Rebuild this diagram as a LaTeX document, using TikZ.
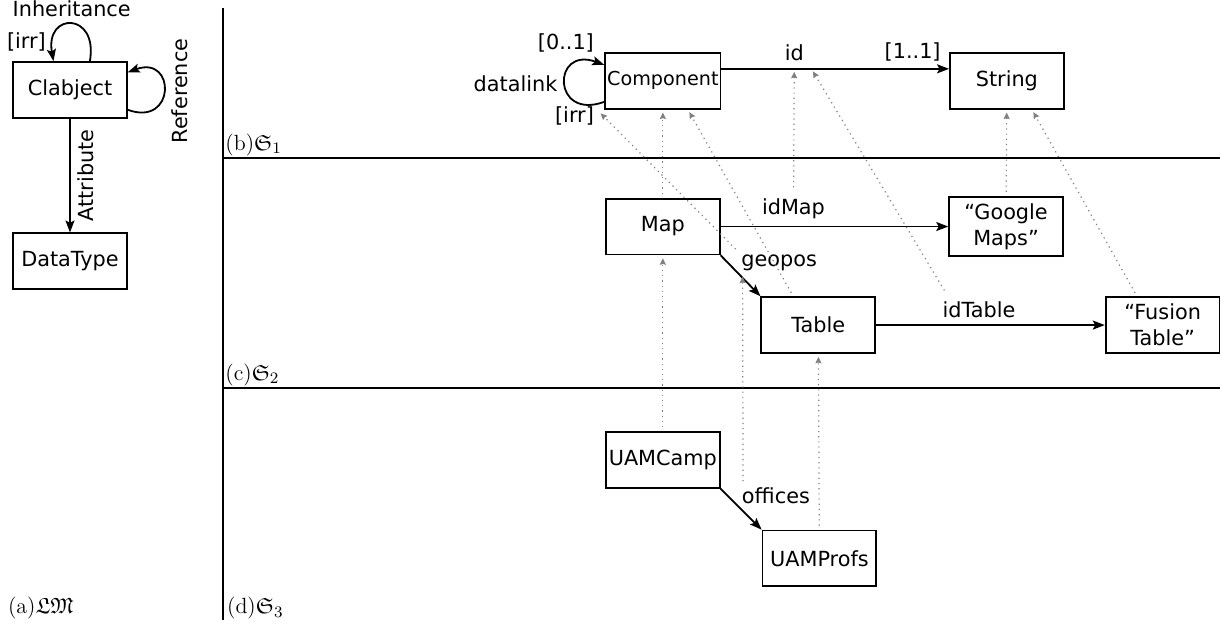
\documentclass[tikz,border=0pt]{standalone}
\usepackage{amsmath,amssymb}
\usepackage{fontspec}
\newfontfamily\dejavu{DejaVu Sans}
\usepackage{tikz}
\usetikzlibrary{arrows.meta, positioning}

\begin{document}
\begin{tikzpicture}[
    node distance=1.55cm and 4cm,
    every node/.style={font=\dejavu\fontsize{10.4}{13}\selectfont},
    cls/.style={rectangle, draw, line width=0.9pt, minimum width=2cm, minimum height=0.98cm, inner xsep=1pt, align=center},
    lvl/.style={font=\rmfamily\fontsize{11}{13}\selectfont, inner sep=1pt},
    arrow/.style={-{Stealth[length=6pt, width=4.5pt, inset=1.2pt]}, line width=0.9pt},
    inst/.style={-{Stealth[length=3.2pt, width=3pt, inset=0.4pt]}, dotted, gray, semithick, shorten >=1.5pt, shorten <=2pt},
    sep/.style={line width=0.9pt}
]
    \useasboundingbox (0,0) rectangle (21.53,-10.97);
    \draw [sep] (3.92,-0.14) -- (3.92,-10.90);
    \draw [sep] (3.92,-2.78) -- (21.44,-2.78);
    \draw [sep] (3.92,-6.82) -- (21.44,-6.82);
    \node [lvl, anchor=south west] (lbls1) at (3.92,-2.78) {(b)$\mathfrak{S}_1$};
    \node [lvl, anchor=south west] (lbls2) at (3.92,-6.82) {(c)$\mathfrak{S}_2$};
    \node [lvl, anchor=west] (lbls3) at (3.95,-10.69) {(d)$\mathfrak{S}_3$};
    \node [lvl, anchor=west] (lblm) at (0.1,-10.69) {(a)$\mathfrak{LM}$};

    \node [cls] (clab) at (1.23,-1.58) {Clabject};
    \node [cls, below=2cm of clab] (dtype) {DataType};
    \node [cls, font=\dejavu\fontsize{9.6}{11}\selectfont] (comp) at (11.65,-1.42) {Component};
    \node [cls, right=of comp] (string) {String};
    \node [cls, below=of comp] (map) {Map};
    \node [cls, right=of map] (gmaps) {“Google\\Maps”};
    \node [cls, below right=0.72cm and 0.7cm of map] (table) {Table};
    \node [cls, right=4.02cm of table] (fusion) {“Fusion\\Table”};
    \node [cls, below=3.09cm of map] (camp) {UAMCamp};
    \node [cls, below right=0.72cm and 0.72cm of camp] (profs) {UAMProfs};

    \draw [arrow] (clab) -- node[anchor=north, rotate=90] (attrlbl) {Attribute} (dtype);
    \draw [arrow] ([xshift=0.35cm]clab.north) to[out=80, in=100, distance=0.88cm] node[above] (inhlbl) {Inheritance} node[pos=0.85, left] (inhirr) {[irr]} ([xshift=-0.29cm]clab.north);
    \draw [arrow] ([yshift=-0.35cm]clab.east) to[out=-20, in=20, distance=0.9cm] node[anchor=north, rotate=90] (reflbl) {Reference} ([yshift=0.31cm]clab.east);
    \draw [arrow] ([yshift=-0.37cm]comp.west) to[out=200, in=160, distance=0.98cm] node[left] (dlink) {datalink} node[pos=0.95, above left=4pt and 0pt, inner sep=1pt] (dlmult) {[0..1]} node[pos=0.05, below left, inner sep=1pt] (dlirr) {[irr]} ([yshift=0.28cm]comp.west);
    \draw [arrow] ([yshift=0.21cm]comp.east) -- node[above, pos=0.32] (idlbl) {id} node[above, pos=0.84] (idmult) {[1..1]} ([yshift=0.21cm]string.west);
    \draw [arrow] (map) -- node[above, pos=0.32] (idmap) {idMap} (gmaps);
    \draw [arrow] (map.south east) -- node[above right, pos=0.45, inner sep=1pt] (geo) {geopos} (table.north west);
    \draw [arrow] (table) -- node[above, pos=0.45] (idtab) {idTable} (fusion);
    \draw [arrow] (camp.south east) -- node[above right, pos=0.45, inner sep=1pt] (offc) {offices} (profs.north west);

    \draw [inst] (map) -- (comp);
    \draw [inst] ([xshift=-0.44cm]table.north) -- ([xshift=0.44cm]comp.south);
    \draw [inst] (geo.north west) -- ([shift={(-0.1cm,-0.03cm)}]comp.south west);
    \draw [inst] (idmap) -- (idlbl);
    \draw [inst] ([xshift=0.2cm]idtab.north west) -- (idlbl.south east);
    \draw [inst] (gmaps) -- (string);
    \draw [inst] ([xshift=-0.45cm]fusion.north) -- ([xshift=0.44cm]string.south);
    \draw [inst] (camp) -- (map);
    \draw [inst] ([xshift=2pt]offc.north west) -- ([xshift=2pt]geo.south west);
    \draw [inst] (profs) -- (table);
\end{tikzpicture}
\end{document}
